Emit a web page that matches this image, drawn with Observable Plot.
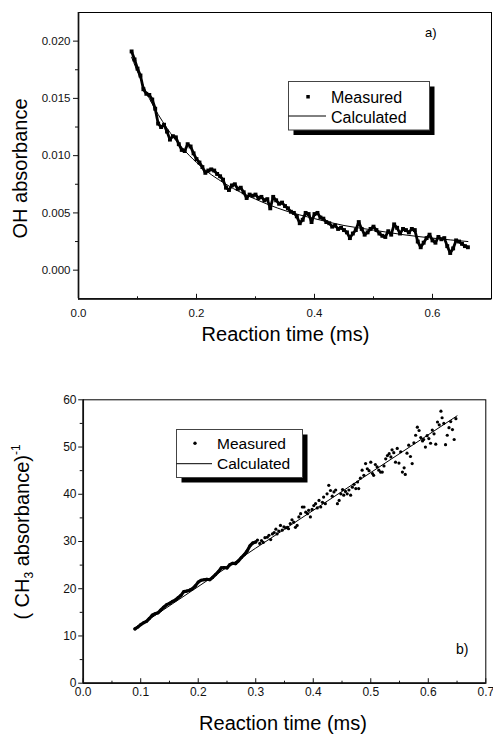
<!DOCTYPE html>
<html><head><meta charset="utf-8">
<script src="https://cdn.jsdelivr.net/npm/d3@7"></script>
<script src="https://cdn.jsdelivr.net/npm/@observablehq/plot@0.6"></script>
<style>
html,body{margin:0;padding:0;background:#fff;}
#wrap{position:relative;width:493px;height:734px;overflow:hidden;font-family:"Liberation Sans",Arial,sans-serif;}
#wrap svg{position:absolute;left:0;}
</style></head><body><div id="wrap"></div>
<script>
// ---------- Panel a) OH absorbance ----------
const ohTime = [0.090,0.095,0.100,0.105,0.110,0.115,0.120,0.125,0.130,0.135,0.140,0.145,0.150,0.155,0.160,0.165,0.170,0.175,0.180,0.185,0.190,0.195,0.200,0.205,0.210,0.215,0.220,0.225,0.230,0.235,0.240,0.245,0.250,0.255,0.260,0.265,0.270,0.275,0.280,0.285,0.290,0.295,0.300,0.305,0.310,0.315,0.320,0.325,0.330,0.335,0.340,0.345,0.350,0.355,0.360,0.365,0.370,0.375,0.380,0.385,0.390,0.395,0.400,0.405,0.410,0.415,0.420,0.425,0.430,0.435,0.440,0.445,0.450,0.455,0.460,0.465,0.470,0.475,0.480,0.485,0.490,0.495,0.500,0.505,0.510,0.515,0.520,0.525,0.530,0.535,0.540,0.545,0.550,0.555,0.560,0.565,0.570,0.575,0.580,0.585,0.590,0.595,0.600,0.605,0.610,0.615,0.620,0.625,0.630,0.635,0.640,0.645,0.650,0.655,0.660];
const ohMeasured = [0.0191,0.0184,0.0176,0.0170,0.0158,0.0154,0.0153,0.0149,0.0141,0.0128,0.0125,0.0127,0.0121,0.0114,0.0117,0.0116,0.0110,0.0105,0.0104,0.0110,0.0108,0.0102,0.0097,0.0094,0.0090,0.0085,0.0087,0.0088,0.0087,0.0084,0.0082,0.0079,0.0072,0.0070,0.0074,0.0075,0.0071,0.0072,0.0068,0.0063,0.0066,0.0065,0.0066,0.0063,0.0064,0.0061,0.0062,0.0054,0.0064,0.0061,0.0058,0.0059,0.0056,0.0054,0.0051,0.0050,0.0047,0.0041,0.0044,0.0050,0.0049,0.0042,0.0049,0.0050,0.0046,0.0045,0.0042,0.0041,0.0038,0.0039,0.0036,0.0037,0.0035,0.0033,0.0028,0.0032,0.0035,0.0042,0.0036,0.0031,0.0033,0.0036,0.0038,0.0035,0.0032,0.0030,0.0029,0.0034,0.0031,0.0040,0.0037,0.0032,0.0036,0.0035,0.0033,0.0036,0.0035,0.0025,0.0020,0.0024,0.0028,0.0031,0.0026,0.0024,0.0029,0.0027,0.0028,0.0021,0.0015,0.0019,0.0026,0.0025,0.0023,0.0021,0.0020];
const ohCalcTime = [0.09,0.12,0.15,0.20,0.25,0.30,0.35,0.40,0.45,0.50,0.55,0.60,0.66];
const ohCalculated = [0.0186,0.0150,0.0124,0.0094,0.0075,0.0062,0.0052,0.0045,0.0039,0.0035,0.0031,0.0028,0.0025];
const xMajorA = [0, 0.2, 0.4, 0.6];
const xMinorA = [0.1, 0.3, 0.5];
const yMajorA = [0, 0.005, 0.010, 0.015, 0.020];
const yMinorA = [0.0025, 0.0075, 0.0125, 0.0175];

// ---------- Panel b) (CH3 absorbance)^-1 ----------
const ch3Time = [0.090,0.095,0.100,0.105,0.110,0.115,0.120,0.125,0.130,0.135,0.140,0.145,0.150,0.155,0.160,0.165,0.170,0.175,0.180,0.185,0.190,0.195,0.200,0.205,0.210,0.215,0.220,0.225,0.230,0.235,0.240,0.245,0.250,0.255,0.260,0.265,0.270,0.275,0.280,0.285,0.290,0.295,0.300,
0.303,0.307,0.310,0.313,0.316,0.320,0.323,0.326,0.329,0.332,0.335,0.337,0.340,0.343,0.346,0.349,0.352,0.355,0.357,0.360,0.363,0.366,0.369,0.372,0.375,0.378,0.381,0.384,0.387,0.390,0.392,0.395,0.398,0.401,0.404,0.407,0.410,0.413,0.416,0.418,0.421,0.424,0.427,0.430,0.433,0.436,0.439,0.442,0.445,0.448,0.451,0.453,0.456,0.459,0.462,0.465,0.468,0.471,0.474,0.477,0.479,0.482,0.485,0.488,0.491,0.494,0.497,0.500,0.503,0.505,0.508,0.511,0.514,0.517,0.520,0.523,0.526,0.529,0.532,0.535,0.537,0.540,0.543,0.546,0.549,0.552,0.555,0.558,0.560,0.563,0.566,0.569,0.572,0.575,0.578,0.581,0.584,0.587,0.590,0.592,0.595,0.598,0.601,0.604,0.607,0.610,0.613,0.616,0.619,0.622,0.624,0.627,0.630,0.633,0.636,0.639,0.642,0.645,0.648];
const ch3Measured = [11.5,11.9,12.4,12.8,13.1,13.7,14.4,14.7,14.9,15.5,16.1,16.6,16.9,17.3,17.6,18.1,18.6,19.4,19.5,19.7,20.0,20.6,21.4,21.8,21.9,22.0,21.9,22.4,23.0,23.6,24.4,24.5,24.4,25.1,25.4,25.3,25.9,26.6,27.2,28.0,29.1,29.7,29.9,
30.3,29.6,30.2,29.8,30.8,30.9,31.3,30.4,31.6,31.9,32.6,31.6,32.2,33.4,32.4,33.1,32.9,33.0,32.7,33.8,34.6,34.1,33.0,33.4,35.2,35.9,37.3,37.3,36.2,35.9,36.6,35.2,36.8,37.6,38.0,37.1,38.7,37.3,38.3,39.4,38.0,40.1,41.9,40.8,39.6,40.5,40.9,38.0,38.7,40.1,41.0,39.8,40.6,40.1,40.9,39.8,41.5,42.1,41.2,42.6,41.2,43.4,45.1,44.0,46.5,45.4,45.0,46.8,44.4,44.0,46.3,45.8,45.1,44.7,44.7,46.0,47.5,48.2,48.6,47.9,49.4,48.8,46.8,49.7,46.6,49.0,44.7,45.6,44.2,48.7,50.4,48.0,46.5,50.9,52.5,54.2,53.5,52.0,51.3,51.6,50.0,52.4,51.8,50.8,53.6,52.8,50.6,55.3,54.7,57.6,56.2,55.0,50.5,52.5,54.1,55.4,53.7,51.6,56.0];
const ch3CalcTime = [0.09, 0.30, 0.65];
const ch3Calculated = [11.5, 28.6, 56.6];
const xMajorB = [0, 0.1, 0.2, 0.3, 0.4, 0.5, 0.6, 0.7];
const xMinorB = [0.05, 0.15, 0.25, 0.35, 0.45, 0.55, 0.65];
const yMajorB = [0, 10, 20, 30, 40, 50, 60];
const yMinorB = [5, 15, 25, 35, 45, 55];

const FONT = "'Liberation Sans', Arial, sans-serif";
const wrap = document.getElementById("wrap");

const aData = ohTime.map((t, i) => ({t, v: ohMeasured[i]}));
const aCalc = ohCalcTime.map((t, i) => ({t, v: ohCalculated[i]}));

const plotA = Plot.plot({
  width: 493, height: 360,
  marginTop: 12, marginBottom: 61.7, marginLeft: 78, marginRight: 2,
  x: {domain: [0, 0.7]},
  y: {domain: [-0.0025, 0.0225]},
  style: {fontFamily: FONT, fontSize: "11.5px", color: "#111", background: "transparent", overflow: "visible"},
  marks: [
    Plot.frame({stroke: "#000", strokeWidth: 1}),
    Plot.ruleX([0], {strokeWidth: 1.7}),
    Plot.ruleY([-0.0025], {strokeWidth: 1.7}),
    Plot.axisX(xMajorA, {anchor: "top", frameAnchor: "bottom", tickSize: 5.5, tickFormat: () => "", label: null}),
    Plot.axisX(xMinorA, {anchor: "top", frameAnchor: "bottom", tickSize: 3, tickFormat: () => "", label: null}),
    Plot.axisX(xMajorA, {anchor: "bottom", tickSize: 0, tickPadding: 10, tickFormat: d => d.toFixed(1), label: null}),
    Plot.axisY(yMajorA, {anchor: "left", tickSize: 5, tickPadding: 3, tickFormat: d => d.toFixed(3), label: null}),
    Plot.axisY(yMinorA, {anchor: "left", tickSize: 3, tickFormat: () => "", label: null}),
    Plot.line(aCalc, {x: "t", y: "v", curve: "monotone-x", stroke: "#000", strokeWidth: 1}),
    Plot.line(aData, {x: "t", y: "v", stroke: "#000", strokeWidth: 2.8}),
    Plot.dot(aData, {x: "t", y: "v", symbol: "square", r: 2.2, fill: "#000", stroke: "none"})
  ]
});
plotA.style.top = "0px";
wrap.appendChild(plotA);

const bData = ch3Time.map((t, i) => ({t, v: ch3Measured[i]}));
const bCalc = ch3CalcTime.map((t, i) => ({t, v: ch3Calculated[i]}));

const plotB = Plot.plot({
  width: 493, height: 374,
  marginTop: 39.3, marginBottom: 51.3, marginLeft: 82.7, marginRight: 7.7,
  x: {domain: [0, 0.7]},
  y: {domain: [0, 60]},
  style: {fontFamily: FONT, fontSize: "12px", color: "#111", background: "transparent", overflow: "visible"},
  marks: [
    Plot.frame({stroke: "#000", strokeWidth: 1}),
    Plot.ruleX([0], {strokeWidth: 1.7}),
    Plot.ruleY([0], {strokeWidth: 1.7}),
    Plot.axisX(xMajorB, {anchor: "top", frameAnchor: "bottom", tickSize: 5.5, tickFormat: () => "", label: null}),
    Plot.axisX(xMinorB, {anchor: "top", frameAnchor: "bottom", tickSize: 3, tickFormat: () => "", label: null}),
    Plot.axisX(xMajorB, {anchor: "bottom", tickSize: 0, tickPadding: 4.6, tickFormat: d => d.toFixed(1), label: null}),
    Plot.axisY(yMajorB, {anchor: "left", tickSize: 4.5, tickPadding: 2.2, tickFormat: d => String(d), label: null}),
    Plot.axisY(yMinorB, {anchor: "left", tickSize: 3, tickFormat: () => "", label: null}),
    Plot.line(bCalc, {x: "t", y: "v", stroke: "#000", strokeWidth: 1}),
    Plot.line(bData.filter(d => d.t <= 0.3), {x: "t", y: "v", stroke: "#000", strokeWidth: 3.2}),
    Plot.dot(bData, {x: "t", y: "v", r: 1.6, fill: "#000", stroke: "none"})
  ]
});
plotB.style.top = "360px";
wrap.appendChild(plotB);

// ---------- Overlay: titles, legends, panel labels ----------
const ov = d3.select(wrap).append("svg")
  .attr("width", 493).attr("height", 734)
  .style("top", "0px").style("pointer-events", "none")
  .attr("font-family", FONT).attr("fill", "#000");

// axis titles
ov.append("text").attr("x", 285.5).attr("y", 341).attr("text-anchor", "middle")
  .attr("font-size", 20).text("Reaction time (ms)");
ov.append("text").attr("x", 283).attr("y", 729.5).attr("text-anchor", "middle")
  .attr("font-size", 20).text("Reaction time (ms)");
ov.append("text").attr("transform", "translate(26.5,168.5) rotate(-90)").attr("text-anchor", "middle")
  .attr("font-size", 20).text("OH absorbance");
const yb = ov.append("text").attr("transform", "translate(29,532) rotate(-90)").attr("text-anchor", "middle")
  .attr("font-size", 20);
yb.append("tspan").text("( CH");
yb.append("tspan").attr("font-size", 12).attr("dy", 4).text("3");
yb.append("tspan").attr("dy", -4).text(" absorbance)");
yb.append("tspan").attr("font-size", 12).attr("dy", -9).text("-1");

// panel labels
ov.append("text").attr("x", 425).attr("y", 37).attr("font-size", 13).text("a)");
ov.append("text").attr("x", 456).attr("y", 654).attr("font-size", 14).text("b)");

// legend a
ov.append("rect").attr("x", 293.5).attr("y", 86.5).attr("width", 141).attr("height", 48.5).attr("fill", "#000");
ov.append("rect").attr("x", 288.5).attr("y", 81.5).attr("width", 141).attr("height", 48.5)
  .attr("fill", "#fff").attr("stroke", "#444").attr("stroke-width", 1);
ov.append("rect").attr("x", 306.3).attr("y", 95).attr("width", 3.5).attr("height", 3.5).attr("fill", "#000");
ov.append("line").attr("x1", 288.5).attr("x2", 326).attr("y1", 116).attr("y2", 116).attr("stroke", "#000").attr("stroke-width", 1);
ov.append("text").attr("x", 331).attr("y", 102.5).attr("font-size", 16).text("Measured");
ov.append("text").attr("x", 331).attr("y", 122.5).attr("font-size", 16).text("Calculated");

// legend b
ov.append("rect").attr("x", 181.5).attr("y", 434.5).attr("width", 126).attr("height", 48).attr("fill", "#000");
ov.append("rect").attr("x", 176.5).attr("y", 429.5).attr("width", 126).attr("height", 48)
  .attr("fill", "#fff").attr("stroke", "#444").attr("stroke-width", 1);
ov.append("circle").attr("cx", 195).attr("cy", 443.3).attr("r", 1.7).attr("fill", "#000");
ov.append("line").attr("x1", 176.5).attr("x2", 212).attr("y1", 463.7).attr("y2", 463.7).attr("stroke", "#000").attr("stroke-width", 1);
ov.append("text").attr("x", 217).attr("y", 449.3).attr("font-size", 15.5).text("Measured");
ov.append("text").attr("x", 217).attr("y", 469.3).attr("font-size", 15.5).text("Calculated");
</script>
</body></html>
